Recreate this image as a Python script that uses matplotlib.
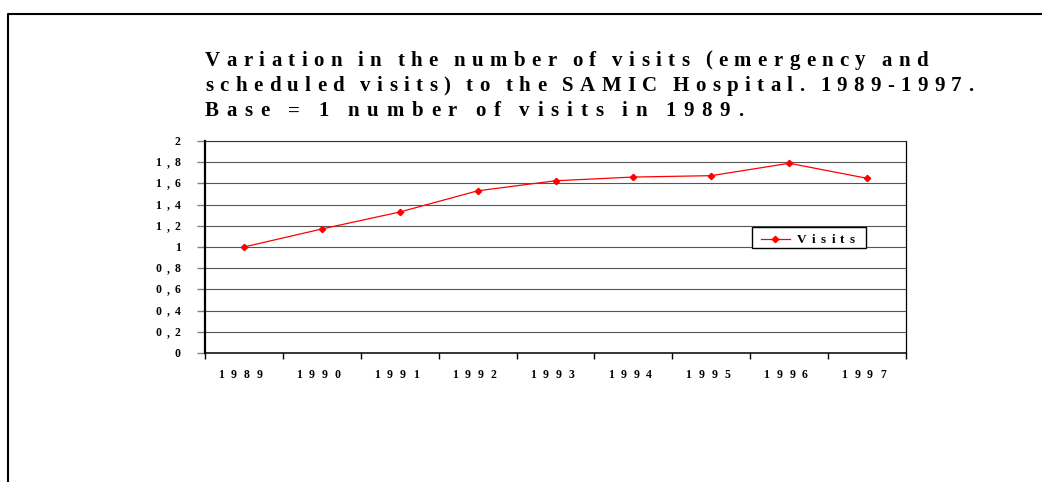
import matplotlib
matplotlib.use("Agg")
import matplotlib.pyplot as plt
import numpy as np
from matplotlib.font_manager import FontProperties
from matplotlib.lines import Line2D
from matplotlib.patches import Rectangle
from matplotlib.transforms import IdentityTransform

# ---- data ----
years = ["1989", "1990", "1991", "1992", "1993", "1994", "1995", "1996", "1997"]
visits = [1.0, 1.17, 1.33, 1.53, 1.625, 1.66, 1.673, 1.79, 1.648]
yticks = [0, 0.2, 0.4, 0.6, 0.8, 1.0, 1.2, 1.4, 1.6, 1.8, 2.0]
ytick_labels = ["0", "0,2", "0,4", "0,6", "0,8", "1", "1,2", "1,4", "1,6", "1,8", "2"]
title_lines = ["Variation in the number of visits (emergency and",
               "scheduled visits) to the SAMIC Hospital. 1989-1997.",
               "Base = 1 number of visits in 1989."]
legend_label = "Visits"

W, H = 1042, 482
RED = "#ff0000"
fig = plt.figure(figsize=(W / 100, H / 100), dpi=100)
rend = fig.canvas.get_renderer()

# plot area in pixels: left 205, right 906, top 141, bottom 353
ax = fig.add_axes([205 / W, 1 - 353 / H, (906 - 205) / W, (353 - 141) / H])
x = np.arange(len(years))
ax.plot(x, visits, color=RED, lw=0.9, marker="D", ms=3.2, mfc=RED, mec=RED, zorder=4)
ax.set_xlim(-0.5, len(years) - 0.5)
ax.set_ylim(0, 2)
ax.set_xticks(np.arange(-0.5, len(years), 1))
ax.set_yticks(yticks)
ax.tick_params(axis="x", direction="out", length=4, width=1, color="black", labelbottom=False)
ax.tick_params(axis="y", direction="out", length=6, width=1, color="#808080", labelleft=False)
ax.grid(axis="y", color="#555555", lw=0.8)
ax.set_axisbelow(True)
ax.spines["left"].set_linewidth(1.6)
ax.spines["bottom"].set_linewidth(1.1)
ax.spines["right"].set_linewidth(0.9)
ax.spines["top"].set_linewidth(0.8)
ax.spines["top"].set_color("#333333")


def spaced_text(xp, yp, s, size, track, space, ha="left", width=None):
    """Draw s with letter spacing; xp, yp in pixels from the top-left, y = baseline.
    If width is given, the tracking is chosen so the line spans that many pixels."""
    fp = FontProperties(family="Liberation Serif", weight="bold", size=size)
    ws = [space if c == " " else rend.get_text_width_height_descent(c, fp, ismath=False)[0]
          for c in s]
    if width is not None:
        track = (width - sum(ws)) / (len(s) - 1)
    total = sum(ws) + track * (len(s) - 1)
    if ha == "center":
        xp -= total / 2
    elif ha == "right":
        xp -= total
    for c, w in zip(s, ws):
        if c != " ":
            fig.text(xp, H - yp, c, fontproperties=fp, transform=IdentityTransform(),
                     ha="left", va="baseline")
        xp += w + track


# title (line widths measured on the reference)
for i, (line, wpx) in enumerate(zip(title_lines, [723, 768, 538])):
    spaced_text(205, 65.5 + 25.5 * i, line, 15, 0, 3, width=wpx)

# year labels
for i, yr in enumerate(years):
    cx = ax.transData.transform((i, 0))[0]
    spaced_text(cx - 3.5, 378, yr, 8.5, 7.0, 4, ha="center")

# y labels
for v, lab in zip(yticks, ytick_labels):
    py = H - ax.transData.transform((0, v))[1]
    spaced_text(180.5, py + 4, lab, 8.5, 5.3, 4, ha="right")

# legend box
ax.add_patch(Rectangle(((752 - 205) / 701, (353 - 248) / 212), 114 / 701, 21 / 212,
                       transform=ax.transAxes, facecolor="white", edgecolor="black",
                       lw=1, zorder=6, clip_on=False))
ax.add_line(Line2D([(761 - 205) / 701, (790 - 205) / 701], [(353 - 238.5) / 212] * 2,
                   transform=ax.transAxes, color=RED, lw=0.9, zorder=7))
ax.add_line(Line2D([(775 - 205) / 701], [(353 - 238.5) / 212], transform=ax.transAxes,
                   color=RED, marker="D", ms=3.2, zorder=7))
spaced_text(797, 243, legend_label, 9.5, 5.3, 4)

# outer frame (top and left edges)
fig.add_artist(Line2D([8 / W, 8 / W, 1], [0, 1 - 14 / H, 1 - 14 / H],
                      transform=fig.transFigure, color="black", lw=1.5))

fig.savefig("out.png", dpi=100)
